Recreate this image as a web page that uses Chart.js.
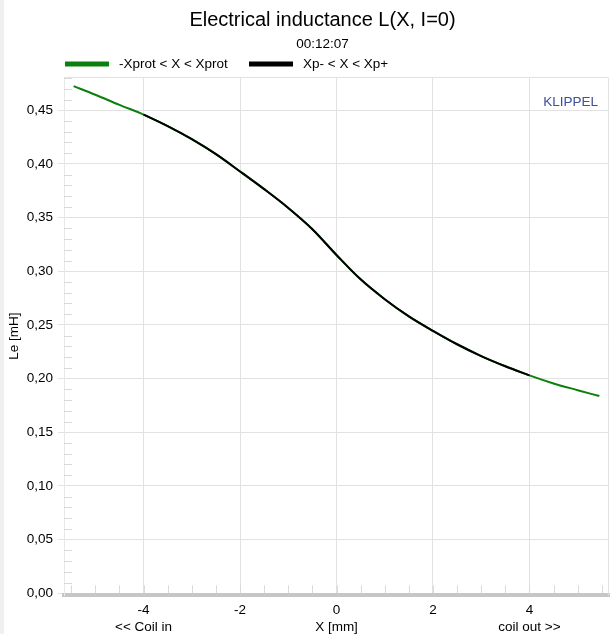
<!DOCTYPE html>
<html>
<head>
<meta charset="utf-8">
<title>Electrical inductance L(X, I=0)</title>
<script src="https://cdn.jsdelivr.net/npm/chart.js@4.4.1/dist/chart.umd.min.js"></script>
<style>
  html, body { margin: 0; padding: 0; background: #fff; }
  #wrap { position: relative; width: 611px; height: 634px; }
</style>
</head>
<body>
<div id="wrap"><canvas id="chart" width="611" height="634"></canvas></div>
<script>
// coil displacement X [mm] and the measured inductance Le [mH]
const displacement = [-5.45, -5.0, -4.5, -4.0, -3.5, -3.0, -2.5, -2.0, -1.5, -1.0, -0.5, 0.0,
                      0.5, 1.0, 1.5, 2.0, 2.5, 3.0, 3.5, 4.0, 4.5, 5.0, 5.45];
const inductance = [0.4725, 0.4645, 0.4550, 0.4460, 0.4353, 0.4231, 0.4091, 0.3930, 0.3765, 0.3590, 0.3392, 0.3152,
                    0.2925, 0.2740, 0.2580, 0.2445, 0.2320, 0.2210, 0.2115, 0.2030, 0.1955, 0.1892, 0.1837];

// inner range Xp- .. Xp+
const xpLimit = 4.0;

const xTickValues = [-4, -2, 0, 2, 4];
const xTickLabels = [['-4', '<< Coil in'], ['-2'], ['0', 'X [mm]'], ['2'], ['4', 'coil out >>']];
const yTickValues = [0, 0.05, 0.10, 0.15, 0.20, 0.25, 0.30, 0.35, 0.40, 0.45];
const yTickLabels = ['0,00', '0,05', '0,10', '0,15', '0,20', '0,25', '0,30', '0,35', '0,40', '0,45'];

const FONT = "'Liberation Sans', Arial, sans-serif";
const GRID = '#e2e2e2';

const protPoints = displacement.map((x, i) => ({ x, y: inductance[i] }));
const xpPoints = protPoints.filter(p => Math.abs(p.x) <= xpLimit);

const yMinor = [];
for (let i = 1; i <= 48; i++) if (i % 5) yMinor.push(i / 100);
const xMinor = [];
for (let i = -11; i <= 11; i++) xMinor.push(i / 2);

// chart frame, minor ticks, legend and the KLIPPEL mark
const decorations = {
  id: 'decorations',
  afterLayout(chart) {
    // title and time stamp sit a bit right of the canvas centre
    chart.boxes.forEach(b => {
      if (b instanceof Chart.Title._element) {
        b.left += 18;
        b.right += 18;
      }
    });
  },
  beforeDraw(chart) {
    const ctx = chart.ctx;
    ctx.save();
    ctx.fillStyle = '#fff';
    ctx.fillRect(0, 0, chart.width, chart.height);
    ctx.fillStyle = '#f0f0f0';
    ctx.fillRect(0, 0, 4, chart.height);
    ctx.restore();
  },
  beforeDatasetsDraw(chart) {
    const { ctx, chartArea: a, scales: { x, y } } = chart;
    ctx.save();
    ctx.lineWidth = 1;
    ctx.strokeStyle = '#d9d9d9';
    ctx.beginPath();
    yMinor.forEach(v => {
      const py = Math.round(y.getPixelForValue(v)) + 0.5;
      ctx.moveTo(a.left, py);
      ctx.lineTo(a.left + 8, py);
    });
    xMinor.forEach(v => {
      const px = Math.round(x.getPixelForValue(v)) + 0.5;
      ctx.moveTo(px, a.bottom - 2);
      ctx.lineTo(px, a.bottom - 10);
    });
    ctx.stroke();

    ctx.strokeStyle = GRID;
    ctx.beginPath();
    ctx.moveTo(a.left, a.top + 0.5);
    ctx.lineTo(a.right - 0.5, a.top + 0.5);
    ctx.lineTo(a.right - 0.5, a.bottom);
    ctx.stroke();
    ctx.restore();
  },
  afterDraw(chart) {
    const { ctx, chartArea: a } = chart;
    const legendX = [65, 249];
    ctx.save();
    ctx.font = '13.5px ' + FONT;
    ctx.textBaseline = 'middle';
    chart.data.datasets.forEach((ds, i) => {
      ctx.fillStyle = ds.borderColor;
      ctx.fillRect(legendX[i], 61.5, 44, 5);
      ctx.fillStyle = '#000';
      ctx.textAlign = 'left';
      ctx.fillText(ds.label, legendX[i] + 54, 64);
    });
    ctx.fillStyle = '#3d509c';
    ctx.textAlign = 'right';
    ctx.fillText('KLIPPEL', a.right - 11, 102);
    ctx.restore();
  }
};

new Chart(document.getElementById('chart'), {
  type: 'scatter',
  data: {
    datasets: [
      {
        label: '-Xprot < X < Xprot',
        data: protPoints,
        showLine: true,
        borderColor: '#0c800c',
        borderWidth: 2,
        pointRadius: 0,
        cubicInterpolationMode: 'monotone',
        order: 2
      },
      {
        label: 'Xp- < X < Xp+',
        data: xpPoints,
        showLine: true,
        borderColor: '#000000',
        borderWidth: 2,
        pointRadius: 0,
        cubicInterpolationMode: 'monotone',
        order: 1
      }
    ]
  },
  options: {
    responsive: false,
    animation: false,
    devicePixelRatio: 1,
    layout: { padding: { left: 0, right: 2, top: 0, bottom: 0 } },
    plugins: {
      legend: { display: false },
      tooltip: { enabled: false },
      title: {
        display: true,
        text: 'Electrical inductance L(X, I=0)',
        color: '#000',
        font: { family: FONT, size: 20, weight: 'normal' },
        padding: { top: 8, bottom: 0 }
      },
      subtitle: {
        display: true,
        text: '00:12:07',
        color: '#000',
        font: { family: FONT, size: 13.5, weight: 'normal' },
        padding: { top: 4, bottom: 24.8 }
      }
    },
    scales: {
      x: {
        type: 'linear',
        min: -5.65,
        max: 5.65,
        afterBuildTicks: s => { s.ticks = xTickValues.map(v => ({ value: v })); },
        afterFit: s => { s.height = 38.6; },
        ticks: {
          callback: (v, i) => xTickLabels[i],
          color: '#000',
          font: { family: FONT, size: 13.5, lineHeight: 17 / 13.5 },
          padding: 6,
          maxRotation: 0,
          autoSkip: false
        },
        grid: { color: GRID, drawTicks: false },
        border: { color: '#c6c6c6', width: 4 }
      },
      y: {
        min: -0.002,
        max: 0.481,
        afterBuildTicks: s => { s.ticks = yTickValues.map(v => ({ value: v })); },
        afterFit: s => { s.width = 64; },
        ticks: {
          callback: (v, i) => yTickLabels[i],
          color: '#000',
          font: { family: FONT, size: 13.5 },
          padding: 5
        },
        grid: { color: GRID, tickLength: 6 },
        border: { color: '#e8e8e8', width: 1 },
        title: {
          display: true,
          text: 'Le [mH]',
          color: '#000',
          font: { family: FONT, size: 13.5 },
          padding: { top: 6, bottom: 0 }
        }
      }
    }
  },
  plugins: [decorations]
});
</script>
</body>
</html>
